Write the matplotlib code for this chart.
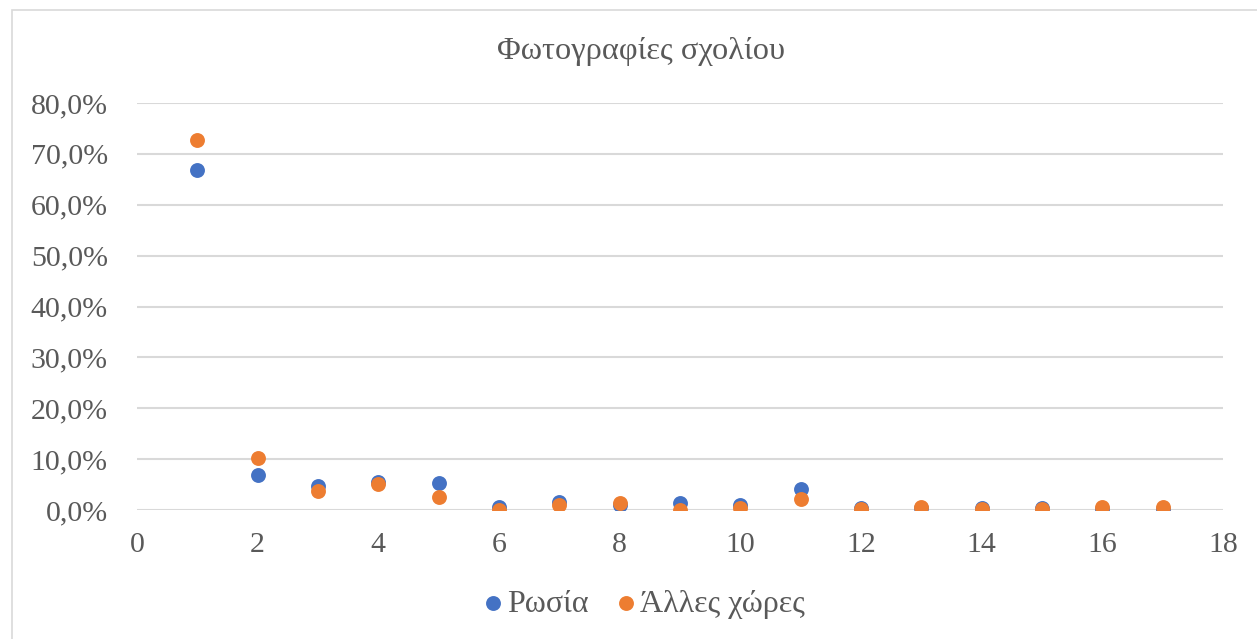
import matplotlib.pyplot as plt
from matplotlib.patches import Rectangle
from matplotlib.ticker import FuncFormatter

plt.rcParams['font.family'] = ['Liberation Serif', 'DejaVu Serif']

x = list(range(1, 18))
russia = [66.8, 6.9, 4.7, 5.6, 5.4, 0.5, 1.6, 1.0, 1.4, 1.0, 4.1, 0.3, 0.4, 0.3, 0.3, 0.2, 0.2]
other = [72.7, 10.2, 3.7, 5.1, 2.6, 0.0, 0.9, 1.3, 0.0, 0.4, 2.1, 0.1, 0.5, 0.1, 0.1, 0.5, 0.5]

blue = '#4472C4'
orange = '#ED7D31'
grey = '#595959'

fig = plt.figure(figsize=(12.57, 6.39), dpi=100)
# thin chart-area frame
fig.patches.append(Rectangle((12 / 1257, -0.05), 1.1, 1 - 10 / 639 + 0.05,
                             transform=fig.transFigure, fill=False,
                             edgecolor='#D9D9D9', linewidth=1.2))
ax = fig.add_axes([137 / 1257, 1 - 510 / 639, (1223 - 137) / 1257, (510 - 103) / 639])

ax.scatter(x, russia, s=115, color=blue, label='Ρωσία', zorder=3, linewidths=0)
ax.scatter(x, other, s=115, color=orange, label='Άλλες χώρες', zorder=4, linewidths=0)

ax.set_xlim(0, 18)
ax.set_ylim(0, 80)
ax.set_xticks(range(0, 19, 2))
ax.set_yticks(range(0, 81, 10))
ax.yaxis.set_major_formatter(FuncFormatter(lambda v, p: f'{v:.1f}%'.replace('.', ',')))
ax.grid(axis='y', color='#D9D9D9', linewidth=1.5, zorder=0)
for s in ax.spines.values():
    s.set_visible(False)
ax.tick_params(length=0, labelsize=21.5, colors=grey)
ax.tick_params(axis='x', pad=16)
ax.tick_params(axis='y', pad=21)

fig.text(641 / 1257, 1 - 52 / 639, 'Φωτογραφίες σχολίου', ha='center', va='center',
         fontsize=23.3, color=grey)

leg = fig.legend(loc='center', bbox_to_anchor=(645 / 1257, 1 - 604 / 639), ncol=2,
                 frameon=False, fontsize=23, handlelength=0.5, handletextpad=0.18,
                 columnspacing=0.95, markerscale=1.0, labelcolor=grey)

fig.savefig('out.png', dpi=100)
